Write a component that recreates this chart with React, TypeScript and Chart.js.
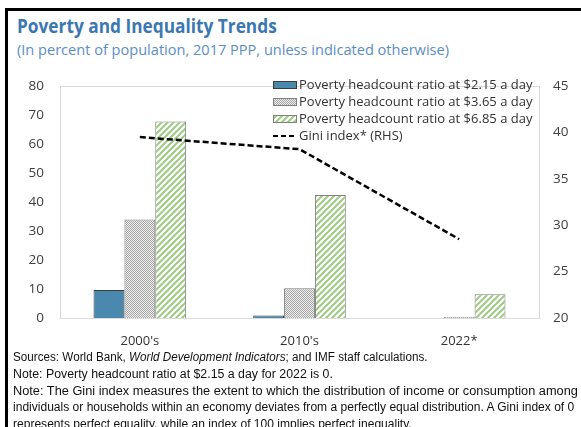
import React, { useEffect, useLayoutEffect, useRef } from "react";
import { Chart, registerables } from "chart.js";

Chart.register(...registerables);

const categories = ["2000's", "2010's", "2022*"];
const pov215 = [9.7, 0.9, 0];
const pov365 = [34.0, 10.3, 0.4];
const pov685 = [67.8, 42.4, 8.2];
const gini = [39.5, 38.2, 28.5];
const leftTicks = { min: 0, max: 80, step: 10 };
const rightTicks = { min: 20, max: 45, step: 5 };
const legendLabels = [
  "Poverty headcount ratio at $2.15 a day",
  "Poverty headcount ratio at $3.65 a day",
  "Poverty headcount ratio at $6.85 a day",
  "Gini index* (RHS)",
];

const BLUE = "#4a88ad";
const FONT = "'Open Sans', 'Noto Sans', sans-serif";

function makeGray(): CanvasPattern | string {
  const c = document.createElement("canvas");
  c.width = 2;
  c.height = 2;
  const x = c.getContext("2d");
  if (!x) return "#c8c8c8";
  x.fillStyle = "#eeeeee";
  x.fillRect(0, 0, 2, 2);
  x.fillStyle = "#a6a6a6";
  x.fillRect(0, 0, 1, 1);
  x.fillRect(1, 1, 1, 1);
  return x.createPattern(c, "repeat") as CanvasPattern;
}

function makeGreen(): CanvasPattern | string {
  const s = 6;
  const c = document.createElement("canvas");
  c.width = s;
  c.height = s;
  const x = c.getContext("2d");
  if (!x) return "#c5e0b4";
  x.fillStyle = "#ffffff";
  x.fillRect(0, 0, s, s);
  x.strokeStyle = "#9fca83";
  x.lineWidth = 2;
  x.beginPath();
  x.moveTo(0, s);
  x.lineTo(s, 0);
  x.moveTo(-s / 2, s / 2);
  x.lineTo(s / 2, -s / 2);
  x.moveTo(s / 2, s * 1.5);
  x.lineTo(s * 1.5, s / 2);
  x.stroke();
  return x.createPattern(c, "repeat") as CanvasPattern;
}

function Fit({ w, children, style }: { w: number; children: React.ReactNode; style?: React.CSSProperties }) {
  const ref = useRef<HTMLSpanElement>(null);
  useLayoutEffect(() => {
    const el = ref.current;
    if (!el) return;
    el.style.transform = "none";
    const a = el.offsetWidth;
    if (a > 0) el.style.transform = `scaleX(${w / a})`;
  }, [w]);
  return (
    <span
      ref={ref}
      style={{ display: "inline-block", whiteSpace: "nowrap", transformOrigin: "0 0", ...style }}
    >
      {children}
    </span>
  );
}

export default function App() {
  const canvasRef = useRef<HTMLCanvasElement>(null);

  useEffect(() => {
    const canvas = canvasRef.current;
    if (!canvas) return;
    const gray = makeGray();
    const green = makeGreen();

    const frame = {
      id: "frame",
      beforeDatasetsDraw(chart: any) {
        const { ctx, chartArea: a } = chart;
        ctx.save();
        ctx.strokeStyle = "#d9d9d9";
        ctx.lineWidth = 1;
        ctx.strokeRect(Math.round(a.left) + 0.5, Math.round(a.top) + 0.5, a.right - a.left, a.bottom - a.top);
        ctx.restore();
      },
    };

    const legend = {
      id: "customLegend",
      afterDraw(chart: any) {
        const ctx = chart.ctx as CanvasRenderingContext2D;
        const fills: any[] = [BLUE, gray, green, null];
        const borders = ["#3c3c3c", "#808080", "#808080", null];
        const x0 = 273;
        const rows = [23, 40, 57, 74];
        ctx.save();
        ctx.font = `13px ${FONT}`;
        ctx.textBaseline = "middle";
        ctx.fillStyle = "#333333";
        legendLabels.forEach((lab, i) => {
          const y = rows[i];
          if (fills[i]) {
            ctx.fillStyle = fills[i];
            ctx.fillRect(x0, y - 4, 24, 8);
            ctx.strokeStyle = borders[i] as string;
            ctx.lineWidth = 1;
            ctx.strokeRect(x0 + 0.5, y - 3.5, 23, 7);
          } else {
            ctx.strokeStyle = "#000";
            ctx.lineWidth = 2;
            ctx.setLineDash([5, 3]);
            ctx.beginPath();
            ctx.moveTo(x0, y);
            ctx.lineTo(x0 + 24, y);
            ctx.stroke();
            ctx.setLineDash([]);
          }
          ctx.fillStyle = "#333333";
          ctx.fillText(lab, x0 + 26, y + 0.5);
        });
        ctx.restore();
      },
    };

    const chart = new Chart(canvas, {
      type: "bar",
      data: {
        labels: categories,
        datasets: [
          {
            type: "line",
            label: legendLabels[3],
            data: gini,
            yAxisID: "y2",
            borderColor: "#000",
            borderWidth: 2.5,
            borderDash: [6, 3],
            pointRadius: 0,
            tension: 0,
            order: 0,
          } as any,
          {
            label: legendLabels[0],
            data: pov215,
            backgroundColor: BLUE,
            borderColor: "#3c3c3c",
            borderWidth: 1,
            yAxisID: "y",
            order: 1,
          },
          {
            label: legendLabels[1],
            data: pov365,
            backgroundColor: gray as any,
            borderColor: "#7a7a7a",
            borderWidth: 1,
            yAxisID: "y",
            order: 1,
          },
          {
            label: legendLabels[2],
            data: pov685,
            backgroundColor: green as any,
            borderColor: "#808080",
            borderWidth: 1,
            yAxisID: "y",
            order: 1,
          },
        ],
      },
      options: {
        responsive: false,
        animation: false,
        devicePixelRatio: 1,
        layout: { padding: { top: 15, left: 0, right: 0, bottom: 0 } },
        datasets: { bar: { categoryPercentage: 0.58, barPercentage: 1 } } as any,
        plugins: { legend: { display: false }, tooltip: { enabled: false } },
        scales: {
          x: {
            grid: { display: false, drawTicks: false },
            border: { display: false },
            ticks: { color: "#333", font: { family: FONT, size: 13 }, padding: 15 },
            afterFit: (s: any) => {
              s.height = 34;
            },
          },
          y: {
            position: "left",
            min: leftTicks.min,
            max: leftTicks.max,
            grid: { display: false, drawTicks: false },
            border: { display: false },
            ticks: { stepSize: leftTicks.step, color: "#404040", font: { family: FONT, size: 13.5 }, padding: 16 },
            afterFit: (s: any) => {
              s.width = 60;
            },
          },
          y2: {
            position: "right",
            min: rightTicks.min,
            max: rightTicks.max,
            grid: { display: false, drawTicks: false },
            border: { display: false },
            ticks: { stepSize: rightTicks.step, color: "#404040", font: { family: FONT, size: 13.5 }, padding: 14 },
            afterFit: (s: any) => {
              s.width = 42;
            },
          },
        },
      },
      plugins: [frame, legend],
    });
    return () => chart.destroy();
  }, []);

  const foot: React.CSSProperties = {
    fontFamily: "'Liberation Sans', Arial, sans-serif",
    fontSize: "12.5px",
    lineHeight: "16.8px",
    color: "#111",
  };
  const row: React.CSSProperties = { height: 16.8, fontSize: "12.5px", lineHeight: "16.8px", overflow: "visible" };

  return (
    <div
      style={{
        position: "fixed",
        left: 0,
        top: 0,
        width: 581,
        height: 427,
        overflow: "hidden",
        background: "#fff",
      }}
    >
      <div
        style={{
          position: "absolute",
          left: 5,
          top: 8,
          width: 700,
          height: 600,
          borderLeft: "3px solid #000",
          borderTop: "3px solid #000",
        }}
      />
      <div style={{ position: "absolute", left: 17, top: 15.5, lineHeight: 1 }}>
        <Fit w={260} style={{ fontFamily: FONT, fontWeight: 700, fontSize: "20px", color: "#3b77b0" }}>
          Poverty and Inequality Trends
        </Fit>
      </div>
      <div style={{ position: "absolute", left: 17, top: 41.7, lineHeight: 1 }}>
        <Fit w={432} style={{ fontFamily: FONT, fontSize: "15px", color: "#5a8ec5" }}>
          (In percent of population, 2017 PPP, unless indicated otherwise)
        </Fit>
      </div>
      <canvas
        ref={canvasRef}
        width={581}
        height={290}
        style={{ position: "absolute", left: 0, top: 62, width: 581, height: 290 }}
      />
      <div style={{ position: "absolute", left: 13, top: 349, fontSize: "12.5px", lineHeight: "16.8px" }}>
        <div style={row}>
          <Fit w={415} style={foot}>
            Sources: World Bank, <i>World Development Indicators</i>; and IMF staff calculations.
          </Fit>
        </div>
        <div style={row}>
          <Fit w={320} style={foot}>
            Note: Poverty headcount ratio at $2.15 a day for 2022 is 0.
          </Fit>
        </div>
        <div style={row}>
          <Fit w={565} style={foot}>
            Note: The Gini index measures the extent to which the distribution of income or consumption among
          </Fit>
        </div>
        <div style={row}>
          <Fit w={561} style={foot}>
            individuals or households within an economy deviates from a perfectly equal distribution. A Gini index of 0
          </Fit>
        </div>
        <div style={row}>
          <Fit w={399} style={foot}>
            represents perfect equality, while an index of 100 implies perfect inequality.
          </Fit>
        </div>
      </div>
    </div>
  );
}
